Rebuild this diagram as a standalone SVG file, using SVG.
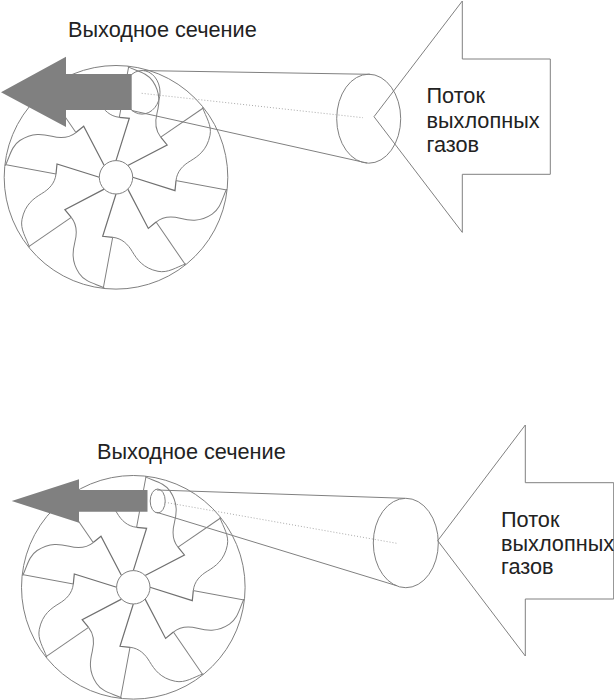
<svg xmlns="http://www.w3.org/2000/svg" xmlns:xlink="http://www.w3.org/1999/xlink" width="614" height="700" viewBox="0 0 614 700">
  <style>
    .ln { fill: none; stroke: #808080; stroke-width: 1; }
    .edge { fill: none; stroke: #707070; stroke-width: 1.2; }
    .outline { fill: none; stroke: #808080; stroke-width: 1; }
    .axis { fill: none; stroke: #aaa; stroke-width: 1; stroke-dasharray: 1 2; }
    .solid { fill: #808080; stroke: none; }
    .hub { fill: #fff; stroke: #808080; stroke-width: 1; }
    text { font-family: "Liberation Sans", Arial, sans-serif; font-size: 21.7px; fill: #222; }
  </style>
  <defs>
    <!-- one blade of the eight, pointing east; rotated about the wheel centre -->
    <g id="blade">
      <path class="edge" d="M16.7 0 L59 13.3 L60 3.3"/>
      <path class="ln" d="M60 3.3 L110.7 12.7"/>
      <path class="ln" d="M60 3.3 C61 -6 67 -12 74.3 -16.3 C82 -21 91 -27 94 -42 C96 -52 90 -60 86.5 -70"/>
    </g>
    <g id="wheel">
      <circle class="ln" r="111.8"/>
      <use xlink:href="#blade"/>
      <use xlink:href="#blade" transform="rotate(45)"/>
      <use xlink:href="#blade" transform="rotate(90)"/>
      <use xlink:href="#blade" transform="rotate(135)"/>
      <use xlink:href="#blade" transform="rotate(180)"/>
      <use xlink:href="#blade" transform="rotate(225)"/>
      <use xlink:href="#blade" transform="rotate(270)"/>
      <use xlink:href="#blade" transform="rotate(315)"/>
      <circle class="hub" r="16.7"/>
    </g>
  </defs>

  <!-- upper assembly -->
  <g id="wheel-top"><use xlink:href="#wheel" transform="translate(116 177.3)"/></g>
  <g id="exit-section-top"><ellipse class="ln" cx="142" cy="92.3" rx="18" ry="21.8"/></g>
  <g id="flow-section-top"><ellipse class="ln" cx="368.7" cy="118.7" rx="32" ry="44.5"/></g>
  <g id="connectors-top">
    <path class="ln" d="M144 70.6 L370 74.3"/>
    <path class="ln" d="M131.7 110.5 L367 163"/>
    <path class="axis" d="M141.7 93.3 L363 117.7"/>
  </g>
  <g id="exit-arrow-top"><path class="solid" d="M1 92.3 L66 56.7 L66 74 L131.7 74 L131.7 110 L66 110 L66 127 Z"/></g>
  <g id="flow-arrow-top"><path class="outline" d="M374 116.7 L462.3 1 L462.3 59 L550.3 59 L550.3 174.3 L462.3 174.3 L462.3 232.4 Z"/></g>
  <g id="label-exit-top"><text x="68" y="36.5">Выходное сечение</text></g>
  <g id="label-flow-top">
    <text x="426.5" y="103">Поток</text>
    <text x="426.5" y="128">выхлопных</text>
    <text x="426.5" y="151.5">газов</text>
  </g>

  <!-- lower assembly -->
  <g id="wheel-bottom"><use xlink:href="#wheel" transform="translate(133.3 587.3)"/></g>
  <g id="exit-section-bottom"><ellipse class="ln" cx="157.7" cy="501" rx="7.5" ry="12"/></g>
  <g id="flow-section-bottom"><ellipse class="ln" cx="405.8" cy="543" rx="32.5" ry="44.7"/></g>
  <g id="connectors-bottom">
    <path class="ln" d="M157 490 L405 498.3"/>
    <path class="ln" d="M156.7 512.3 L396.7 585.7"/>
    <path class="axis" d="M165 502.3 L396.7 543.3"/>
  </g>
  <g id="exit-arrow-bottom"><path class="solid" d="M11.7 501 L79 479.3 L79 490 L147.5 490 L147.5 511.7 L79 511.7 L79 522.7 Z"/></g>
  <g id="flow-arrow-bottom"><path class="outline" d="M437.7 540.7 L525.3 425 L525.3 482.7 L613.7 482.7 L613.7 599 L525.3 599 L525.3 656 Z"/></g>
  <g id="label-exit-bottom"><text x="97" y="458.5">Выходное сечение</text></g>
  <g id="label-flow-bottom">
    <text x="501" y="526.5">Поток</text>
    <text x="501" y="550.5">выхлопных</text>
    <text x="501" y="574">газов</text>
  </g>
</svg>
